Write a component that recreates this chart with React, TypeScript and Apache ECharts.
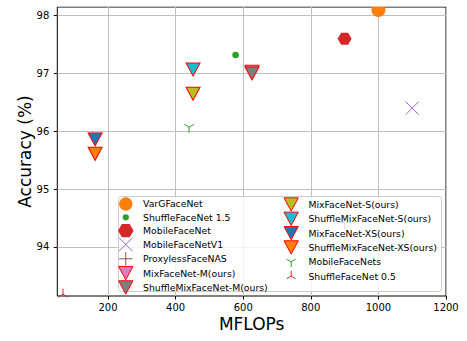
import React, { useEffect, useRef } from "react";
import * as echarts from "echarts";

const SERIES_NAMES = [
  "VarGFaceNet",
  "ShuffleFaceNet 1.5",
  "MobileFaceNet",
  "MobileFaceNetV1",
  "ProxylessFaceNAS",
  "MixFaceNet-M(ours)",
  "ShuffleMixFaceNet-M(ours)",
  "MixFaceNet-S(ours)",
  "ShuffleMixFaceNet-S(ours)",
  "MixFaceNet-XS(ours)",
  "ShuffleMixFaceNet-XS(ours)",
  "MobileFaceNets",
  "ShuffleFaceNet 0.5",
];
const MFLOPS = [1000, 577.5, 900, 1100, 900, 626.1, 626.1, 451.7, 451.7, 161.9, 161.9, 439.8, 66.9];
const ACCURACY = [98.1, 97.32, 97.6, 96.4, 94.42, 97.03, 97.0, 96.65, 97.07, 95.86, 95.61, 96.07, 93.18];
const X_TICKS = [200, 400, 600, 800, 1000, 1200];
const Y_TICKS = [94, 95, 96, 97, 98];
const LEGEND_LEFT = SERIES_NAMES.slice(0, 7);
const LEGEND_RIGHT = SERIES_NAMES.slice(7);

const FONT = "DejaVu Sans";
const EDGE = "#ff0000";
const NONE = "rgba(0,0,0,0)";

const TRI = "path://M0 0 L14 0 L7 13 Z";
const HEX = "path://M3.5 0 L10.5 0 L14 6 L10.5 12 L3.5 12 L0 6 Z";
const XMARK = "path://M0 0 L20 20 M20 0 L0 20";
const PLUS = "path://M10 0 L10 20 M0 10 L20 10";
const DOT = "path://M0 0 M14 14 M7 3.7 A3.3 3.3 0 1 1 7 10.3 A3.3 3.3 0 1 1 7 3.7 Z";
const YDOWN = "path://M0 0 M20 20 M10 10 L10 17 M10 10 L3.94 6.5 M10 10 L16.06 6.5";
const YUP = "path://M0 0 M20 20 M10 10 L10 3 M10 10 L3.94 13.5 M10 10 L16.06 13.5";
const YDOWN_L = "path://M0 0 M18 18 M9 9 L9 16 M9 9 L2.94 5.5 M9 9 L15.06 5.5";
const YUP_L = "path://M0 0 M18 18 M9 9 L9 2 M9 9 L2.94 12.5 M9 9 L15.06 12.5";

type Sty = {
  symbol: string;
  size: number | number[];
  color: string;
  border?: string;
  bw?: number;
  legendIcon?: string;
};

const STYLES: Sty[] = [
  { symbol: "circle", size: 14, color: "#ff7f0e" },
  { symbol: DOT, size: 14, color: "#2ca02c" },
  { symbol: HEX, size: [14, 12], color: "#d62728" },
  { symbol: XMARK, size: 13, color: NONE, border: "#9467bd", bw: 1 },
  { symbol: PLUS, size: 14, color: NONE, border: "#8c564b", bw: 1 },
  { symbol: TRI, size: [14, 13], color: "#e377c2", border: EDGE, bw: 1 },
  { symbol: TRI, size: [14, 13], color: "#7f7f7f", border: EDGE, bw: 1 },
  { symbol: TRI, size: [14, 13], color: "#bcbd22", border: EDGE, bw: 1 },
  { symbol: TRI, size: [14, 13], color: "#17becf", border: EDGE, bw: 1 },
  { symbol: TRI, size: [14, 13], color: "#1f77b4", border: EDGE, bw: 1 },
  { symbol: TRI, size: [14, 13], color: "#ff7f0e", border: EDGE, bw: 1 },
  { symbol: YDOWN, size: 16, color: NONE, border: "#2ca02c", bw: 1, legendIcon: YDOWN_L },
  { symbol: YUP, size: 16, color: NONE, border: "#d62728", bw: 1, legendIcon: YUP_L },
];

function itemStyleOf(s: Sty) {
  return {
    color: s.color,
    borderColor: s.border ?? NONE,
    borderWidth: s.bw ?? 0,
    opacity: 1,
  };
}

function legendData(names: string[]) {
  return names.map((n) => {
    const s = STYLES[SERIES_NAMES.indexOf(n)];
    return {
      name: n,
      icon: s.legendIcon ?? s.symbol,
      itemStyle: itemStyleOf(s),
    };
  });
}

const legendCommon = {
  orient: "vertical",
  top: 197.3,
  padding: 0,
  itemWidth: 24.5,
  itemHeight: 13.33,
  itemGap: 0,
  selectedMode: false,
  textStyle: { fontSize: 9.3, fontFamily: FONT, color: "#000" },
  z: 10,
};

export default function App() {
  const ref = useRef<HTMLDivElement>(null);
  useEffect(() => {
    document.body.style.margin = "0";
    if (!ref.current) return;
    const chart = echarts.init(ref.current, null, { renderer: "svg" });
    const series = SERIES_NAMES.map((name, i) => {
      const s = STYLES[i];
      return {
        type: "scatter",
        name,
        data: [[MFLOPS[i], ACCURACY[i]]],
        symbol: s.symbol,
        symbolSize: s.size,
        itemStyle: itemStyleOf(s),
        silent: true,
        z: 2,
      };
    });
    chart.setOption({
      animation: false,
      backgroundColor: "#ffffff",
      textStyle: { fontFamily: FONT },
      grid: {
        left: 57.3,
        top: 7,
        right: 21,
        bottom: 45,
        show: true,
        borderColor: "#000",
        borderWidth: 1,
        backgroundColor: NONE,
      },
      xAxis: {
        type: "value",
        min: 50,
        max: 1200,
        name: "MFLOPs",
        nameLocation: "middle",
        nameGap: 19,
        nameMoveOverlap: false,
        nameTextStyle: { fontSize: 17, color: "#000", fontFamily: FONT },
        axisLine: { show: false },
        axisTick: { show: true, length: 3.5, customValues: X_TICKS, lineStyle: { color: "#000" } },
        axisLabel: {
          customValues: X_TICKS,
          formatter: (v: number) => String(v),
          fontSize: 10,
          color: "#000",
          margin: 6,
          fontFamily: FONT,
        },
        splitLine: { show: true, lineStyle: { color: "#c0c0c0", width: 1 } },
      },
      yAxis: {
        type: "value",
        min: 93.15,
        max: 98.15,
        name: "Accuracy (%)",
        nameLocation: "middle",
        nameGap: 24,
        nameMoveOverlap: false,
        nameTextStyle: { fontSize: 17, color: "#000", fontFamily: FONT },
        axisLine: { show: false },
        axisTick: { show: true, length: 3.5, customValues: Y_TICKS, lineStyle: { color: "#000" } },
        axisLabel: {
          customValues: Y_TICKS,
          formatter: (v: number) => String(v),
          fontSize: 10,
          color: "#000",
          margin: 8,
          fontFamily: FONT,
        },
        splitLine: { show: true, lineStyle: { color: "#c0c0c0", width: 1 } },
      },
      legend: [
        { ...legendCommon, left: 118, data: legendData(LEGEND_LEFT) },
        { ...legendCommon, left: 283.5, data: legendData(LEGEND_RIGHT) },
      ],
      graphic: {
        elements: [
          {
            type: "rect",
            z: 5,
            silent: true,
            shape: { x: 0, y: 0, width: 467, height: 6.5 },
            style: { fill: "#ffffff" },
          },
          {
            type: "rect",
            z: 5,
            silent: true,
            shape: { x: 118.5, y: 196.5, width: 323, height: 95, r: 3 },
            style: { fill: "rgba(255,255,255,0.8)", stroke: "#cccccc", lineWidth: 1 },
          },
        ],
      },
      series,
    });
    return () => chart.dispose();
  }, []);
  return <div ref={ref} style={{ width: 467, height: 341 }} />;
}
